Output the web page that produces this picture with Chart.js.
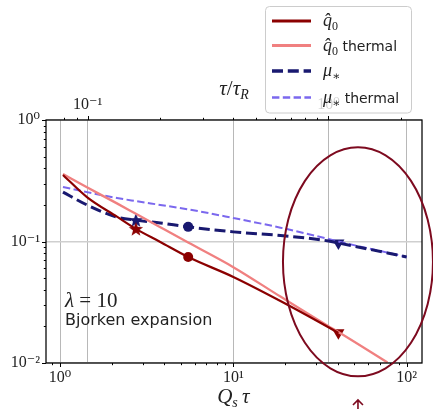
<!DOCTYPE html>
<html>
<head>
<meta charset="utf-8">
<script src="https://cdn.jsdelivr.net/npm/chart.js@4/dist/chart.umd.min.js"></script>
<style>
  html, body { margin: 0; padding: 0; background: #fff; }
  #wrap { width: 433px; height: 409px; }
</style>
</head>
<body>
<div id="wrap"><canvas id="grafica" width="433" height="409"></canvas></div>
<script>
// sample positions on the Q_s tau axis
const qsTau     = [1.04, 1.43, 2.13, 2.74, 3.79, 5.49, 10, 18.7, 35.4, 40.4, 77.6, 100];
const q0        = [0.353, 0.232, 0.160, 0.127, 0.0991, 0.0745, 0.0511, 0.0324, 0.0197, 0.0177, null, null];
const q0Thermal = [0.359, 0.279, 0.206, 0.169, 0.131, 0.098, 0.0615, 0.0352, 0.0201, 0.0180, 0.0101, null];
const mu        = [0.255, 0.200, 0.159, 0.150, 0.142, 0.132, 0.120, 0.112, 0.101, 0.0972, 0.0804, 0.0745];
const muThermal = [0.281, 0.255, 0.228, 0.215, 0.200, 0.184, 0.156, 0.130, 0.105, 0.100, 0.081, 0.0745];

// star, circle, triangle markers
const markerTau = [2.74, 5.49, 40.4];
const q0Marks   = [0.127, 0.0745, 0.0177];
const muMarks   = [0.150, 0.132, 0.0972];

// axes
const xTicks   = [1, 10, 100];
const topTicks = [0.1, 1];
const yTicks   = [0.01, 0.1, 1];
const xRange   = [0.83, 122.7];
const topRange = [0.0671, 2.45];
const yRange   = [0.01, 1];

// hand drawn ellipse + arrow
const ringTau = 52.4;
const ringVal = 0.068;

const DARKRED = '#8b0000';
const LIGHTRED = '#f08080';
const NAVY = '#191970';
const LAVENDER = '#7b68ee';
const SERIF = '"Liberation Serif", "DejaVu Serif", serif';
const SANS = '"DejaVu Sans", sans-serif';

function pts(ys, xs) {
    xs = xs || qsTau;
    return xs.map((x, i) => ({x: x, y: ys[i]})).filter(p => p.y !== null);
}

function isIn(list, v) {
    return list.some(t => Math.abs(Math.log10(v) - Math.log10(t)) < 1e-6);
}

function sup(n) {
    const m = {'-': '\u207b', '0': '\u2070', '1': '\u00b9', '2': '\u00b2', '3': '\u00b3'};
    return String(n).split('').map(c => m[c]).join('');
}

function tickLabel(list) {
    return function(v) {
        return isIn(list, v) ? '10' + sup(Math.round(Math.log10(v))) : '';
    };
}

function gridColor(list, c) {
    return function(ctx) {
        if (!ctx.tick) return c;
        return isIn(list, ctx.tick.value) ? c : 'rgba(0,0,0,0)';
    };
}

function starImage(color) {
    const c = document.createElement('canvas');
    c.width = 16; c.height = 16;
    const g = c.getContext('2d');
    g.beginPath();
    for (let i = 0; i < 10; i++) {
        const r = i % 2 === 0 ? 7.5 : 3.1;
        const a = -Math.PI / 2 + i * Math.PI / 5;
        const px = 8 + r * Math.cos(a), py = 8.6 + r * Math.sin(a);
        if (i === 0) g.moveTo(px, py); else g.lineTo(px, py);
    }
    g.closePath();
    g.fillStyle = color;
    g.fill();
    return c;
}

// text made of pieces: [text, font, dy]
function rich(ctx, parts, x, y, align) {
    let w = 0;
    parts.forEach(p => { ctx.font = p[1]; w += ctx.measureText(p[0]).width; });
    if (align === 'center') x -= w / 2;
    parts.forEach(p => {
        ctx.font = p[1];
        ctx.fillText(p[0], x, y + (p[2] || 0));
        x += ctx.measureText(p[0]).width;
    });
}

function drawTickMarks(ctx, scale, side) {
    scale.ticks.forEach(t => {
        const v = t.value;
        const e = Math.floor(Math.log10(v) + 1e-9);
        const m = v / Math.pow(10, e);
        const mr = Math.round(m);
        if (Math.abs(m - mr) > 1e-6 || mr < 1 || mr > 9) return;
        const len = mr === 1 ? 4 : 2.2;
        const p = Math.round(scale.getPixelForValue(v)) + 0.5;
        ctx.beginPath();
        if (side === 'bottom') { ctx.moveTo(p, scale.top); ctx.lineTo(p, scale.top + len); }
        if (side === 'top') { ctx.moveTo(p, scale.bottom); ctx.lineTo(p, scale.bottom - len); }
        if (side === 'left') { ctx.moveTo(scale.right, p); ctx.lineTo(scale.right - len, p); }
        ctx.stroke();
    });
}

const decor = {
    id: 'decor',
    afterDraw(chart) {
        const ctx = chart.ctx;
        const a = chart.chartArea;
        const sx = chart.scales.x, sy = chart.scales.y, st = chart.scales.xTop;
        ctx.save();

        // spines and tick marks
        ctx.strokeStyle = '#000';
        ctx.lineWidth = 1.25;
        ctx.strokeRect(a.left, a.top, a.right - a.left, a.bottom - a.top);
        ctx.lineWidth = 1;
        drawTickMarks(ctx, sx, 'bottom');
        drawTickMarks(ctx, st, 'top');
        drawTickMarks(ctx, sy, 'left');

        // axis titles
        ctx.fillStyle = '#222';
        ctx.textBaseline = 'alphabetic';
        rich(ctx, [['Q', 'italic 21px ' + SERIF], ['s', 'italic 14px ' + SERIF, 4], ['\u2009\u03c4', 'italic 21px ' + SERIF]],
             sx.getPixelForValue(10), 403, 'center');
        rich(ctx, [['\u03c4', 'italic 21px ' + SERIF], ['/', '21px ' + SERIF], ['\u03c4', 'italic 21px ' + SERIF], ['R', 'italic 14px ' + SERIF, 4]],
             234, 95, 'center');

        // annotation text
        rich(ctx, [['\u03bb', 'italic 21px ' + SERIF], [' = 10', '21px ' + SERIF]], a.left + 19, 307);
        ctx.font = '16px ' + SANS;
        ctx.fillText('Bjorken expansion', a.left + 19, 325);

        // ellipse and arrow
        const cx = sx.getPixelForValue(ringTau), cy = sy.getPixelForValue(ringVal);
        ctx.strokeStyle = '#7d0a1f';
        ctx.lineWidth = 2;
        ctx.beginPath();
        ctx.ellipse(cx, cy, 75, 114.5, 0, 0, Math.PI * 2);
        ctx.stroke();
        ctx.lineWidth = 1.6;
        ctx.beginPath();
        ctx.moveTo(cx, 410); ctx.lineTo(cx, 400);
        ctx.moveTo(cx - 5, 405); ctx.lineTo(cx, 400); ctx.lineTo(cx + 5, 405);
        ctx.stroke();

        // legend
        const lx = 265.5, ly = 6.5, lw = 146, lh = 106.5;
        ctx.beginPath();
        ctx.roundRect(lx, ly, lw, lh, 4);
        ctx.fillStyle = 'rgba(255,255,255,0.8)';
        ctx.fill();
        ctx.strokeStyle = '#cccccc';
        ctx.lineWidth = 1;
        ctx.stroke();

        const rows = [21, 45.5, 71, 97.5];
        const math = 'italic 18px ' + SERIF;
        const sub = '12px ' + SERIF;
        const labels = [
            [['q\u0302', math], ['0', sub, 4]],
            [['q\u0302', math], ['0', sub, 4], [' thermal', '14px ' + SANS]],
            [['\u03bc', math], ['\u2217', sub, 4]],
            [['\u03bc', math], ['\u2217', sub, 4], [' thermal', '14px ' + SANS]]
        ];
        for (let i = 0; i < 4; i++) {
            const ds = chart.data.datasets[i];
            ctx.strokeStyle = ds.borderColor;
            ctx.lineWidth = ds.borderWidth + 0.6;
            ctx.setLineDash(ds.borderDash || []);
            ctx.beginPath();
            ctx.moveTo(272, rows[i]); ctx.lineTo(311, rows[i]);
            ctx.stroke();
            ctx.setLineDash([]);
            ctx.fillStyle = '#222';
            rich(ctx, labels[i], 323, rows[i] + 5);
        }
        ctx.restore();
    }
};

const lineDs = (label, ys, color, width, dash) => ({
    label: label, data: pts(ys), borderColor: color, backgroundColor: color,
    borderWidth: width, borderDash: dash, pointRadius: 0, showLine: true,
    cubicInterpolationMode: 'monotone', fill: false
});

const markDs = (ys, color) => ({
    data: pts(ys, markerTau), showLine: false,
    pointStyle: [starImage(color), 'circle', 'triangle'],
    pointRotation: [0, 0, 180],
    pointRadius: [6, 5, 7],
    backgroundColor: color, borderColor: color, borderWidth: 0
});

const miGrafica = document.getElementById('grafica').getContext('2d');
const G1 = new Chart(miGrafica, {
    type: 'scatter',
    data: {
        datasets: [
            lineDs('q0', q0, DARKRED, 2.2, []),
            lineDs('q0 thermal', q0Thermal, LIGHTRED, 2.3, []),
            lineDs('mu', mu, NAVY, 3, [11, 4.8]),
            lineDs('mu thermal', muThermal, LAVENDER, 2, [7.4, 3.4]),
            markDs(q0Marks, DARKRED),
            markDs(muMarks, NAVY)
        ]
    },
    options: {
        responsive: false,
        animation: false,
        events: [],
        layout: { padding: { left: 0, top: 0, right: 11, bottom: 0 } },
        plugins: { legend: { display: false }, tooltip: { enabled: false } },
        scales: {
            x: {
                type: 'logarithmic', position: 'bottom', min: xRange[0], max: xRange[1],
                grid: { drawTicks: false, color: gridColor(xTicks, '#b8b8b8'), lineWidth: 1 },
                border: { display: false },
                ticks: { autoSkip: false, maxRotation: 0, padding: 5, color: '#222',
                         font: { family: SERIF, size: 16 }, callback: tickLabel(xTicks) },
                afterFit: s => { s.height = 46; }
            },
            xTop: {
                type: 'logarithmic', position: 'top', axis: 'x', min: topRange[0], max: topRange[1],
                grid: { drawTicks: false, color: gridColor(topTicks, '#b8b8b8'), lineWidth: 1 },
                border: { display: false },
                ticks: { autoSkip: false, maxRotation: 0, padding: 6, color: '#222',
                         font: { family: SERIF, size: 16 }, callback: tickLabel(topTicks) },
                afterFit: s => { s.height = 120; }
            },
            y: {
                type: 'logarithmic', position: 'left', min: yRange[0], max: yRange[1],
                grid: { drawTicks: false, color: gridColor(yTicks, '#cfcfcf'), lineWidth: 1.5 },
                border: { display: false },
                ticks: { autoSkip: false, padding: 6, color: '#222',
                         font: { family: SERIF, size: 16 }, callback: tickLabel(yTicks) },
                afterFit: s => { s.width = 46; }
            }
        }
    },
    plugins: [decor]
});
</script>
</body>
</html>
